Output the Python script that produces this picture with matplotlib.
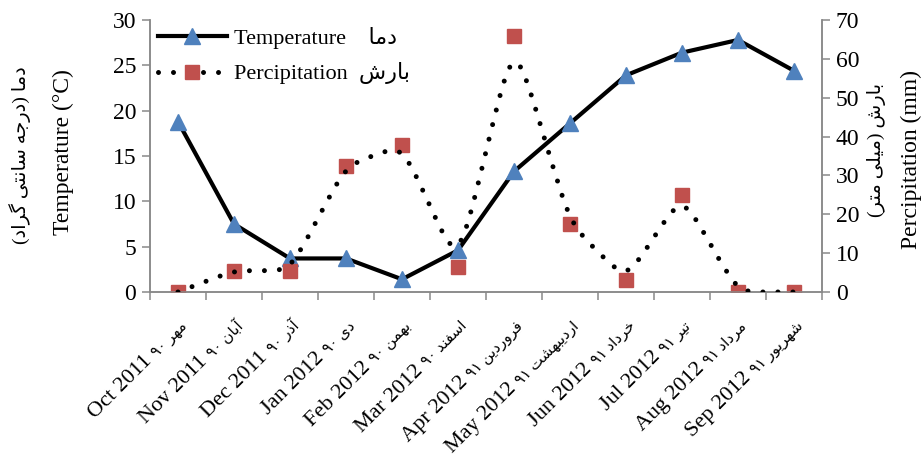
import matplotlib
matplotlib.use("Agg")
import matplotlib.pyplot as plt
from matplotlib.lines import Line2D
from matplotlib.path import Path
from matplotlib.patches import PathPatch

plt.rcParams["font.family"] = ["Liberation Serif", "DejaVu Sans"]

# data
months_en = ["Oct 2011", "Nov 2011", "Dec 2011", "Jan 2012", "Feb 2012", "Mar 2012",
             "Apr 2012", "May 2012", "Jun 2012", "Jul 2012", "Aug 2012", "Sep 2012"]
months_fa = ["مهر", "آبان", "آذر", "دی", "بهمن", "اسفند",
             "فروردین", "اردیبهشت", "خرداد", "تیر", "مرداد", "شهریور"]
years_fa = ["۹۰", "۹۰", "۹۰", "۹۰", "۹۰", "۹۰", "۹۱", "۹۱", "۹۱", "۹۱", "۹۱", "۹۱"]
temperature = [18.8, 7.5, 3.7, 3.7, 1.4, 4.6, 13.3, 18.6, 23.9, 26.4, 27.8, 24.4]
precipitation = [0.0, 5.5, 5.5, 32.5, 37.8, 6.5, 65.8, 17.5, 3.2, 25.0, 0.0, 0.0]

# --- minimal persian shaping (matplotlib 3.10 has no complex text layout) ---
DUAL = {
    "ب": (0xFE8F, 0xFE90, 0xFE91, 0xFE92), "ت": (0xFE95, 0xFE96, 0xFE97, 0xFE98),
    "ج": (0xFE9D, 0xFE9E, 0xFE9F, 0xFEA0), "خ": (0xFEA5, 0xFEA6, 0xFEA7, 0xFEA8),
    "س": (0xFEB1, 0xFEB2, 0xFEB3, 0xFEB4), "ش": (0xFEB5, 0xFEB6, 0xFEB7, 0xFEB8),
    "ف": (0xFED1, 0xFED2, 0xFED3, 0xFED4), "ل": (0xFEDD, 0xFEDE, 0xFEDF, 0xFEE0),
    "م": (0xFEE1, 0xFEE2, 0xFEE3, 0xFEE4), "ن": (0xFEE5, 0xFEE6, 0xFEE7, 0xFEE8),
    "ه": (0xFEE9, 0xFEEA, 0xFEEB, 0xFEEC), "ی": (0xFBFC, 0xFBFD, 0xFBFE, 0xFBFF),
    "گ": (0xFB92, 0xFB93, 0xFB94, 0xFB95),
}
RIGHT = {
    "ا": (0xFE8D, 0xFE8E), "آ": (0xFE81, 0xFE82), "د": (0xFEA9, 0xFEAA),
    "ذ": (0xFEAB, 0xFEAC), "ر": (0xFEAD, 0xFEAE), "و": (0xFEED, 0xFEEE),
}


def fa(text):
    out = []
    for i, ch in enumerate(text):
        if ch not in DUAL and ch not in RIGHT:
            out.append(ch)
            continue
        prev_j = i > 0 and text[i - 1] in DUAL
        next_j = ch in DUAL and i + 1 < len(text) and (text[i + 1] in DUAL or text[i + 1] in RIGHT)
        if ch in RIGHT:
            out.append(chr(RIGHT[ch][1 if prev_j else 0]))
        else:
            f = DUAL[ch]
            idx = 3 if (prev_j and next_j) else 1 if prev_j else 2 if next_j else 0
            out.append(chr(f[idx]))
    vis = "".join(reversed(out))
    return vis.translate(str.maketrans("()", ")("))


x = list(range(len(months_en)))
DPI = 100
fig = plt.figure(figsize=(9.23, 4.57), dpi=DPI)
ax = fig.add_axes([150 / 923, 1 - 292 / 457, 672 / 923, 272 / 457])
ax2 = ax.twinx()

GRAY = "#898989"
ax.plot(x, temperature, "-", color="black", lw=3.0, zorder=2)
ax.plot(x, temperature, "^", color="#4F81BD", ms=12, mec="#4F81BD", zorder=3)

# smoothed dotted precipitation curve, drawn as a bezier path on the data
pts = list(zip(x, precipitation))
mids = [((a[0] + b[0]) / 2, (a[1] + b[1]) / 2) for a, b in zip(pts[:-1], pts[1:])]
verts, codes = [pts[0], mids[0]], [Path.MOVETO, Path.LINETO]
for i in range(1, len(pts) - 1):
    verts += [pts[i], pts[i], mids[i]]
    codes += [Path.CURVE4] * 3
verts.append(pts[-1]); codes.append(Path.LINETO)
ax2.plot(x, precipitation, "s", color="#C0504D", ms=10, mec="#C0504D", zorder=2)
ax2.add_patch(PathPatch(Path(verts, codes), fill=False, ec="black", lw=3.6,
                        ls=(0, (0.001, 3.0)), capstyle="round", zorder=3))

ax.set_xlim(-0.5, len(x) - 0.5)
ax.set_ylim(0, 30)
ax2.set_ylim(0, 70)
ax.set_yticks(range(0, 31, 5))
ax2.set_yticks(range(0, 71, 10))
ax.set_xticks(x)
ax.set_xticklabels([])
ax.set_xticks([i - 0.5 for i in range(len(x) + 1)], minor=True)
ax.tick_params(axis="x", which="major", length=0)
ax.tick_params(axis="x", which="minor", length=6, width=1.1, color=GRAY)
ax.tick_params(axis="y", length=6, width=1.1, color=GRAY, labelsize=17, pad=4)
ax2.tick_params(axis="y", length=6, width=1.1, color=GRAY, labelsize=17, pad=4)

for a in (ax, ax2):
    a.spines["top"].set_visible(False)
    for s in ("left", "right", "bottom"):
        a.spines[s].set_color(GRAY)
        a.spines[s].set_linewidth(1.1)

# x labels: english part large, persian part smaller, chained along the 45 deg baseline
renderer = fig.canvas.get_renderer()
FA_SIZE, EN_SIZE = 11, 16
ox, oy = 7, -25          # offset points of the label end from the axis at the category centre
gap = 4
for xi, en, yr, m in zip(x, months_en, years_fa, months_fa):
    fa_txt = f"{yr} {fa(m)}"
    probe = fig.text(0, 0, fa_txt, fontsize=FA_SIZE)
    w = probe.get_window_extent(renderer).width * 72 / DPI
    probe.remove()
    ax.annotate(fa_txt, xy=(xi, 0), xycoords=("data", "axes fraction"), xytext=(ox, oy),
                textcoords="offset points", rotation=45, rotation_mode="anchor",
                ha="right", va="baseline", fontsize=FA_SIZE, annotation_clip=False)
    d = (w + gap) * 0.7071
    ax.annotate(en, xy=(xi, 0), xycoords=("data", "axes fraction"), xytext=(ox - d, oy - d),
                textcoords="offset points", rotation=45, rotation_mode="anchor",
                ha="right", va="baseline", fontsize=EN_SIZE, annotation_clip=False)

fig.text(63 / 923, 1 - 152 / 457, "Temperature (°C)", rotation=90, ha="center", va="center", fontsize=17)
fig.text(20 / 923, 1 - 155 / 457, fa("دما (درجه سانتی گراد)"), rotation=90, ha="center", va="center", fontsize=14)
fig.text(911 / 923, 1 - 159 / 457, "Percipitation (mm)", rotation=90, ha="center", va="center", fontsize=17)
fig.text(877 / 923, 1 - 150 / 457, fa("بارش (میلی متر)"), rotation=90, ha="center", va="center", fontsize=14)

handles = [
    Line2D([], [], color="black", lw=3.0, marker="^", ms=12, mfc="#4F81BD", mec="#4F81BD"),
    Line2D([], [], color="black", lw=3.6, ls=(0, (0.001, 3.0)), dash_capstyle="round",
           marker="s", ms=10, mfc="#C0504D", mec="#C0504D"),
]
ax2.legend(handles, ["Temperature    " + fa("دما"), "Percipitation  " + fa("بارش")],
           loc="upper left", bbox_to_anchor=(158 / 923, 1 - 27 / 457), bbox_transform=fig.transFigure,
           frameon=False, fontsize=16, handlelength=3.1, handletextpad=0.3, labelspacing=0.6,
           borderpad=0, borderaxespad=0, numpoints=1)

fig.savefig("out.png", dpi=DPI)
